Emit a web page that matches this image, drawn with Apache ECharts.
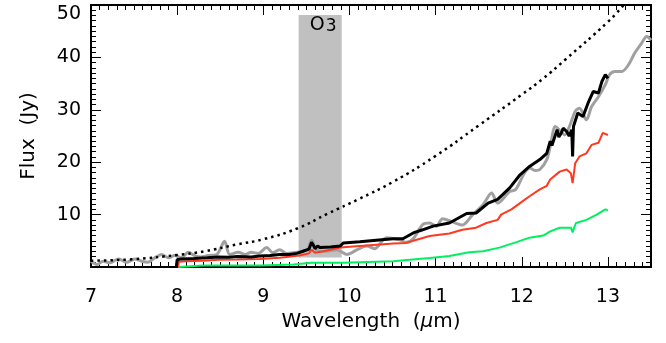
<!DOCTYPE html>
<html>
<head>
<meta charset="utf-8">
<script src="https://cdn.jsdelivr.net/npm/echarts@6/dist/echarts.min.js"></script>
<style>
  html, body { margin: 0; padding: 0; background: #fff; }
  #chart { width: 666px; height: 343px; }
</style>
</head>
<body>
<div id="chart"></div>
<script>
// wavelengths (micron) and fluxes (Jy)
const grayWave = [7.00, 7.07, 7.14, 7.22, 7.32, 7.41, 7.51, 7.59, 7.66, 7.74, 7.82, 7.90, 7.97, 8.05, 8.13, 8.21, 8.28, 8.36, 8.46, 8.55, 8.61, 8.71, 8.79, 8.86, 8.94, 9.04, 9.11, 9.19, 9.27, 9.39, 9.51, 9.56, 9.62, 9.73, 9.85, 9.97, 10.09, 10.20, 10.29, 10.43, 10.58, 10.66, 10.74, 10.85, 10.93, 11.01, 11.08, 11.18, 11.31, 11.43, 11.55, 11.65, 11.72, 11.86, 11.93, 12.03, 12.09, 12.16, 12.21, 12.29, 12.33, 12.39, 12.45, 12.50, 12.56, 12.62, 12.67, 12.75, 12.81, 12.89, 12.97, 13.02, 13.08, 13.16, 13.24, 13.31, 13.39, 13.45, 13.50];
const grayFlux = [1.1, 0.5, 1.1, 0.8, 1.55, 0.9, 1.55, 1.1, 0.9, 1.75, 2.4, 1.75, 2.2, 1.75, 2.8, 2.1, 1.9, 2.2, 2.4, 4.9, 2.4, 2.8, 2.4, 2.8, 2.6, 3.7, 2.7, 3.3, 2.6, 2.8, 3.3, 5.1, 3.2, 3.0, 3.3, 2.4, 3.3, 4.0, 3.5, 5.6, 5.2, 4.7, 5.4, 8.1, 8.4, 7.8, 9.2, 8.7, 8.0, 10.0, 11.9, 14.1, 12.2, 14.4, 14.8, 17.9, 18.9, 18.4, 18.6, 20.5, 23.0, 26.8, 25.9, 25.2, 27.1, 29.7, 30.3, 28.1, 30.6, 32.5, 34.8, 36.7, 37.3, 37.3, 38.6, 40.8, 42.7, 44.0, 43.3];

const blackWave = [7.99, 8.00, 8.05, 8.20, 8.35, 8.48, 8.60, 8.70, 8.86, 8.96, 9.08, 9.19, 9.30, 9.39, 9.46, 9.53, 9.56, 9.58, 9.60, 9.63, 9.66, 9.78, 9.89, 9.93, 10.12, 10.31, 10.51, 10.62, 10.74, 10.85, 10.97, 11.16, 11.36, 11.47, 11.61, 11.72, 11.86, 11.98, 12.09, 12.21, 12.29, 12.33, 12.35, 12.41, 12.43, 12.46, 12.48, 12.52, 12.55, 12.58, 12.59, 12.60, 12.65, 12.71, 12.77, 12.83, 12.89, 12.93, 12.97, 13.00];
const blackFlux = [0, 1.4, 1.55, 1.6, 1.75, 1.9, 1.85, 2.0, 1.9, 2.1, 2.2, 2.4, 2.4, 2.6, 3.0, 3.4, 4.7, 4.2, 3.5, 4.0, 3.7, 3.8, 4.0, 4.6, 4.8, 5.1, 5.4, 5.4, 6.5, 7.1, 7.8, 8.4, 10.2, 10.3, 12.2, 12.9, 15.1, 17.6, 19.2, 20.5, 21.7, 24.0, 23.2, 26.2, 24.8, 25.6, 26.5, 25.9, 25.0, 26.2, 21.1, 26.8, 29.4, 28.7, 31.3, 33.5, 33.2, 35.4, 36.7, 36.0];

const redWave = [8.01, 8.02, 8.10, 8.30, 8.48, 8.70, 8.96, 9.19, 9.42, 9.53, 9.56, 9.60, 9.70, 9.89, 10.12, 10.51, 10.66, 10.78, 10.93, 11.16, 11.31, 11.47, 11.59, 11.72, 11.76, 11.88, 11.98, 12.09, 12.21, 12.29, 12.33, 12.44, 12.52, 12.57, 12.59, 12.61, 12.62, 12.67, 12.75, 12.81, 12.89, 12.94, 13.00];
const redFlux = [0, 1.0, 1.1, 1.2, 1.4, 1.45, 1.55, 1.75, 2.2, 2.6, 3.3, 2.7, 3.0, 3.7, 4.0, 4.5, 4.6, 5.2, 5.9, 6.4, 7.1, 7.5, 8.4, 9.0, 10.0, 11.0, 12.2, 13.5, 14.8, 15.5, 16.7, 18.2, 18.6, 17.9, 16.0, 18.5, 19.8, 21.1, 21.7, 23.3, 23.7, 25.6, 25.2];

const greenWave = [8.01, 8.02, 8.30, 8.96, 9.35, 9.56, 9.93, 10.12, 10.51, 10.70, 10.93, 11.16, 11.39, 11.55, 11.74, 11.93, 12.09, 12.25, 12.33, 12.44, 12.57, 12.59, 12.61, 12.63, 12.75, 12.87, 12.97, 13.00];
const greenFlux = [0, 0.2, 0.3, 0.3, 0.5, 0.8, 0.8, 0.9, 1.1, 1.4, 1.7, 2.1, 2.8, 3.0, 3.7, 4.7, 5.6, 6.0, 6.8, 7.5, 7.5, 6.6, 7.6, 8.4, 9.0, 10.0, 11.0, 10.8];

const dotWave = [7.0, 7.5, 8.0, 8.32, 8.69, 9.0, 9.4, 9.75, 10.1, 10.5, 11.0, 11.5, 12.0, 12.25, 12.5, 13.0, 13.2];
const dotFlux = [1.2, 1.5, 2.3, 3.0, 4.3, 5.3, 7.4, 10.2, 12.9, 16.2, 21.2, 27.0, 32.9, 36.0, 39.5, 46.8, 50.3];

const o3Band = [9.41, 9.91];
const o3Flux = [1.8, 48.1];

const xTicks = [7, 8, 9, 10, 11, 12, 13];
const yTicks = [10, 20, 30, 40, 50];

const pairs = (xs, ys) => xs.map((x, i) => [x, ys[i]]);

const chart = echarts.init(document.getElementById('chart'));
const font = 'DejaVu Sans';

// major ticks + labels, and a second axis for the 0.1 minor ticks
const xBase = {
  type: 'value', min: 7, max: 13.5, gridIndex: 0,
  splitLine: { show: false },
  axisLine: { show: true, onZero: false, lineStyle: { color: '#000', width: 2 } },
};
const yBase = {
  type: 'value', min: 0, max: 50, interval: 10,
  splitLine: { show: false },
  axisLine: { show: true, onZero: false, lineStyle: { color: '#000', width: 2 } },
  axisTick: { show: true, inside: true, length: 10, lineStyle: { color: '#000', width: 1 } },
  minorTick: { show: true, splitNumber: 10, length: 5, lineStyle: { color: '#000', width: 1 } },
};

const option = {
  animation: false,
  backgroundColor: '#fff',
  grid: { left: 91, right: 15, top: 5, bottom: 76 },
  xAxis: [
    Object.assign({}, xBase, {
      position: 'bottom', interval: 1,
      axisTick: { show: true, inside: true, length: 10, lineStyle: { color: '#000', width: 1 } },
      axisLabel: {
        margin: 21, fontSize: 19, fontFamily: font, color: '#000',
        formatter: v => (xTicks.includes(v) ? String(v) : ''),
      },
      name: 'Wavelength  ({mu|μ}m)', nameLocation: 'middle', nameGap: 44,
      nameTextStyle: {
        fontSize: 20, fontFamily: font, color: '#000',
        rich: { mu: { fontSize: 20, fontFamily: font, fontStyle: 'italic', color: '#000' } },
      },
    }),
    Object.assign({}, xBase, {
      position: 'bottom', interval: 0.1,
      axisTick: { show: true, inside: true, length: 5, lineStyle: { color: '#000', width: 1 } },
      axisLabel: { show: false },
    }),
    Object.assign({}, xBase, {
      position: 'top', interval: 1,
      axisTick: { show: true, inside: true, length: 10, lineStyle: { color: '#000', width: 1 } },
      axisLabel: { show: false },
    }),
    Object.assign({}, xBase, {
      position: 'top', interval: 0.1,
      axisTick: { show: true, inside: true, length: 5, lineStyle: { color: '#000', width: 1 } },
      axisLabel: { show: false },
    }),
  ],
  yAxis: [
    Object.assign({}, yBase, {
      position: 'left',
      axisLabel: {
        margin: 10, fontSize: 19, fontFamily: font, color: '#000',
        formatter: v => (v === 50 ? '{t|50}' : yTicks.includes(v) ? String(v) : ''),
        rich: { t: { fontSize: 19, fontFamily: font, color: '#000', padding: [19, 0, 0, 0] } },
      },
      name: 'Flux  (Jy)', nameLocation: 'middle', nameGap: 52, nameRotate: 90,
      nameTextStyle: { fontSize: 20, fontFamily: font, color: '#000' },
    }),
    Object.assign({}, yBase, {
      position: 'right',
      axisLabel: { show: false },
    }),
  ],
  series: [
    {
      name: 'gray', type: 'line', xAxisIndex: 0, yAxisIndex: 0,
      data: pairs(grayWave, grayFlux), showSymbol: false, smooth: 0.3,
      lineStyle: { color: '#a0a0a0', width: 3 }, z: 3,
      markArea: {
        silent: true,
        itemStyle: { color: '#c0c0c0' },
        label: {
          show: true, position: 'insideTop', distance: 0, offset: [3, 0],
          formatter: 'O{s|3}', fontSize: 19, fontFamily: font, color: '#000',
          rich: { s: { fontSize: 17, fontFamily: font, color: '#000', padding: [3, 0, 0, 1] } },
        },
        data: [[{ xAxis: o3Band[0], yAxis: o3Flux[0] }, { xAxis: o3Band[1], yAxis: o3Flux[1] }]],
      },
    },
    {
      name: 'model', type: 'line', xAxisIndex: 0, yAxisIndex: 0,
      data: pairs(dotWave, dotFlux), showSymbol: false, smooth: true,
      lineStyle: { color: '#000', width: 2.5, type: [2.5, 4] }, z: 4,
    },
    {
      name: 'green', type: 'line', xAxisIndex: 0, yAxisIndex: 0,
      data: pairs(greenWave, greenFlux), showSymbol: false,
      lineStyle: { color: '#00f060', width: 2 }, z: 5,
    },
    {
      name: 'red', type: 'line', xAxisIndex: 0, yAxisIndex: 0,
      data: pairs(redWave, redFlux), showSymbol: false,
      lineStyle: { color: '#ff3820', width: 2 }, z: 5,
    },
    {
      name: 'black', type: 'line', xAxisIndex: 0, yAxisIndex: 0,
      data: pairs(blackWave, blackFlux), showSymbol: false,
      lineStyle: { color: '#000', width: 3 }, z: 6,
    },
  ],
};

chart.setOption(option);
</script>
</body>
</html>
